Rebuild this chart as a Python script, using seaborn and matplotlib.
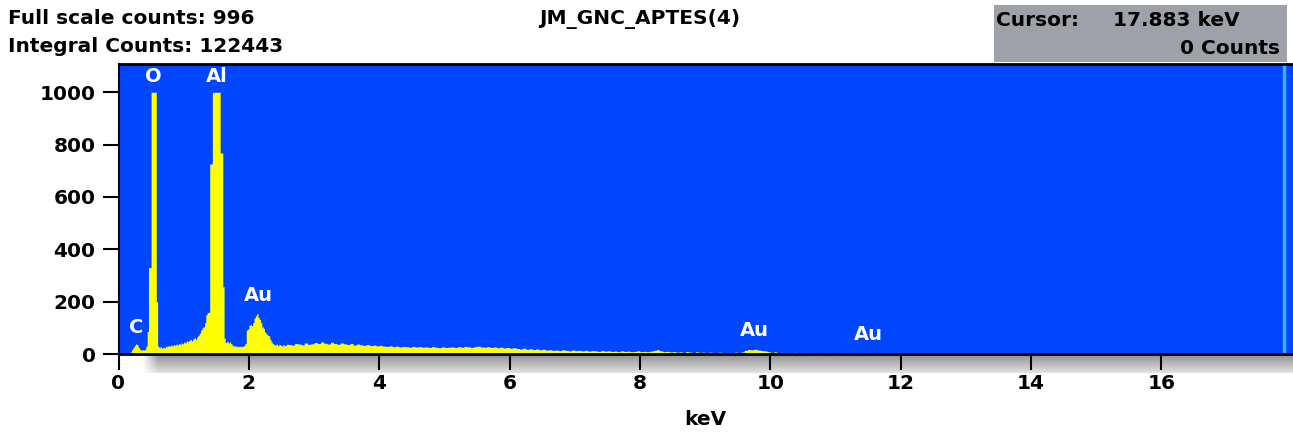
import numpy as np
import pandas as pd
import seaborn as sns
import matplotlib.pyplot as plt
from matplotlib.patches import Rectangle

# EDS spectrum, counts per channel
# 0 - 2.6 keV in 0.02 keV channels
low_counts = [
    0, 0, 0, 0, 0, 0, 0, 0, 0, 8,
    16, 24, 32, 38, 36, 26, 18, 15, 16, 15,
    18, 30, 86, 330, 330, 1000, 1000, 1000, 1000, 200,
    30, 24, 28, 22, 26, 24, 30, 28, 32, 30,
    34, 31, 36, 33, 38, 35, 40, 37, 42, 39,
    46, 43, 50, 47, 52, 56, 50, 58, 62, 56,
    66, 72, 80, 92, 100, 104, 120, 150, 158, 160,
    726, 726, 1000, 1000, 1000, 1000, 1000, 1000, 768, 768,
    257, 60, 44, 48, 42, 46, 40, 34, 30, 32,
    28, 30, 28, 30, 28, 30, 32, 40, 92, 95,
    110, 112, 108, 120, 138, 146, 154, 140, 132, 120,
    104, 98, 84, 78, 72, 70, 56, 46, 40, 36,
    34, 38, 32, 36, 34, 30, 36, 32, 34, 38,
]
# 2.6 - 12.0 keV in 0.05 keV channels
high_counts = [
    36, 34, 40, 38, 35, 42, 37, 39, 44, 40,
    46, 41, 38, 45, 40, 37, 42, 39, 36, 40,
    34, 38, 35, 33, 36, 32, 34, 31, 33, 30,
    29, 31, 28, 30, 27, 29, 28, 26, 29, 27,
    28, 26, 27, 25, 28, 26, 24, 27, 25, 26,
    27, 25, 28, 26, 29, 27, 25, 28, 30, 27,
    26, 28, 25, 27, 24, 26, 23, 25, 22, 24,
    21, 19, 22, 18, 20, 17, 19, 16, 18, 15,
    16, 14, 15, 13, 16, 14, 12, 15, 13, 14,
    12, 14, 11, 13, 12, 10, 13, 11, 12, 10,
    11, 9, 12, 10, 11, 9, 10, 12, 9, 10,
    9, 11, 14, 16, 12, 9, 10, 8, 9, 7,
    8, 6, 9, 7, 5, 8, 6, 7, 4, 7,
    6, 3, 7, 5, 2, 6, 4, 7, 3, 8,
    14, 17, 16, 18, 15, 13, 12, 9, 6, 8,
    4, 6, 2, 5, 3, 6, 1, 4, 5, 2,
    0, 4, 1, 0, 3, 0, 4, 0, 2, 0,
    3, 0, 0, 4, 0, 2, 5, 0, 0, 3,
    0, 4, 0, 0, 3, 0, 2, 0,
]

# peak labels: element, keV, counts
peak_labels = ['C', 'O', 'Al', 'Au', 'Au', 'Au']
peak_kev = [0.27, 0.53, 1.51, 2.15, 9.76, 11.51]
peak_cnt = [100, 1060, 1060, 223, 88, 73]

y_ticks = [0, 200, 400, 600, 800, 1000]
x_ticks = [0, 2, 4, 6, 8, 10, 12, 14, 16]

cursor_kev = 17.883
title = 'JM_GNC_APTES(4)'
full_scale = 996
integral = 122443

edges = np.concatenate([np.linspace(0, 2.6, 131)[:-1], np.linspace(2.6, 12.0, 189)])
df = pd.DataFrame({'kev': (edges[:-1] + edges[1:]) / 2,
                   'counts': low_counts + high_counts})

sns.set_theme(style='ticks')
plt.rcParams['font.family'] = ['DejaVu Sans']
plt.rcParams['font.weight'] = 'bold'
plt.rcParams['text.color'] = 'black'
plt.rcParams['axes.labelcolor'] = 'black'
plt.rcParams['xtick.color'] = 'black'
plt.rcParams['ytick.color'] = 'black'

FS = 14.5

W, H = 1293, 432
fig = plt.figure(figsize=(W / 100, H / 100), dpi=100)
fig.patch.set_facecolor('white')

# grey shadow band under the x axis
band = fig.add_axes([141 / W, (H - 373) / H, 1 - 141 / W, 18 / H], zorder=0)
grad = np.linspace(0.58, 0.88, 18)[:, None] * np.ones((1, 300))
fade = np.clip(np.arange(300) / 4.0, 0, 1)[None, :]
grad = 1 - (1 - grad) * fade
band.imshow(grad, cmap='gray', vmin=0, vmax=1, aspect='auto', interpolation='bilinear')
band.axis('off')

ax = fig.add_axes([118.5 / W, (H - 354) / H, 1 - 118.5 / W, 290 / H], zorder=1)
ax.set_facecolor('#0046ff')

sns.histplot(data=df, x='kev', weights='counts', bins=edges.tolist(), element='step',
             fill=True, color='#ffff00', alpha=1, linewidth=0, ax=ax)

ax.axvline(cursor_kev, color='#3cb4ff', lw=2.5)

for lab, xk, yc in zip(peak_labels, peak_kev, peak_cnt):
    ax.text(xk, yc, lab, color='white', fontsize=14, fontweight='bold',
            ha='center', va='center')

ax.set_xlim(0, 18.02)
ax.set_ylim(0, 1108)
ax.set_xticks(x_ticks)
ax.set_yticks(y_ticks)
ax.set_ylabel('')
ax.set_xlabel('keV', fontsize=FS, fontweight='bold', labelpad=12)
ax.tick_params(axis='x', direction='out', length=11.5, width=1.5, color='black',
               labelsize=FS, labelcolor='black', pad=3)
ax.tick_params(axis='y', direction='out', length=11.5, width=1.5, color='black',
               labelsize=FS, labelcolor='black', pad=5)
ax.spines['right'].set_visible(False)
ax.spines['top'].set_linewidth(2)
ax.spines['bottom'].set_linewidth(2)
ax.spines['left'].set_linewidth(1.5)
for s in ax.spines.values():
    s.set_color('black')

# header texts
fig.text(8 / W, 1 - 19 / H, f'Full scale counts: {full_scale}', fontsize=FS,
         fontweight='bold', ha='left', va='center')
fig.text(8 / W, 1 - 47 / H, f'Integral Counts: {integral}', fontsize=FS,
         fontweight='bold', ha='left', va='center')
fig.text(640 / W, 1 - 19 / H, title, fontsize=FS, fontweight='bold',
         ha='center', va='center')

# cursor readout box
fig.patches.append(Rectangle((994 / W, 1 - 62 / H), 293 / W, 57 / H,
                             transform=fig.transFigure, facecolor='#9ea2a8',
                             edgecolor='none'))
fig.text(996 / W, 1 - 20 / H, 'Cursor:', fontsize=FS, fontweight='bold',
         ha='left', va='center')
fig.text(1240 / W, 1 - 20 / H, f'{cursor_kev:.3f} keV', fontsize=FS,
         fontweight='bold', ha='right', va='center')
fig.text(1280 / W, 1 - 49 / H, '0 Counts', fontsize=FS, fontweight='bold',
         ha='right', va='center')

fig.savefig('out.png', dpi=100)
